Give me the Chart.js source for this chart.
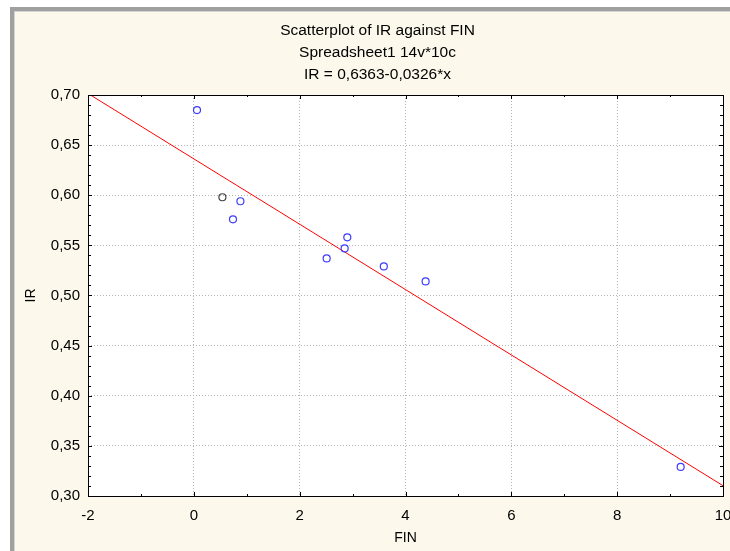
<!DOCTYPE html>
<html>
<head>
<meta charset="utf-8">
<script src="https://cdn.jsdelivr.net/npm/chart.js@4.4.1/dist/chart.umd.min.js"></script>
<style>
html, body { margin: 0; padding: 0; background: #fff; }
canvas { display: block; }
</style>
</head>
<body>
<canvas id="canvas" width="730" height="551"></canvas>
<script>
// datos
const finValues = [0.06, 0.54, 0.88, 0.74, 2.90, 2.85, 2.51, 3.59, 4.38, 9.20];
const irValues  = [0.685, 0.598, 0.594, 0.576, 0.558, 0.547, 0.537, 0.529, 0.514, 0.329];
// el punto en gris oscuro
const pointColors = ["#3c3cff", "#404040", "#3c3cff", "#3c3cff", "#3c3cff", "#3c3cff", "#3c3cff", "#3c3cff", "#3c3cff", "#3c3cff"];
// recta ajustada IR = 0,6363-0,0326*x, extremos del eje
const fitX = [-2, 10];
const fitY = [0.7015, 0.3103];
const xTicks = [-2, 0, 2, 4, 6, 8, 10];
const yTicks = [0.30, 0.35, 0.40, 0.45, 0.50, 0.55, 0.60, 0.65, 0.70];
const titleLines = ["Scatterplot of IR against FIN", "Spreadsheet1 14v*10c", "IR = 0,6363-0,0326*x"];
const xTitle = "FIN";
const yTitle = "IR";

const fontFam = "'Liberation Sans', Arial, sans-serif";
const panelColor = "#fdf8ec";
const gridColor = "#b4b4b4";

function puntos(xs, ys){
    let lista = [];
    for (let i = 0; i < xs.length; i++){
        lista.push({x: xs[i], y: ys[i]});
    }
    return lista;
}

function coma(v, dec){
    return v.toFixed(dec).replace(".", ",");
}

// fondo: marco gris, panel crema, area blanca
const fondoPlugin = {
    id: "fondo",
    beforeDraw(chart){
        const ctx = chart.ctx;
        const a = chart.chartArea;
        ctx.save();
        ctx.fillStyle = "#ffffff";
        ctx.fillRect(0, 0, chart.width, chart.height);
        ctx.fillStyle = "#a0a0a0";
        ctx.fillRect(10, 7, chart.width - 10, 4);
        ctx.fillRect(10, 7, 4, chart.height - 7);
        ctx.fillStyle = "#d4d4d4";
        ctx.fillRect(14, 11, chart.width - 14, 1);
        ctx.fillRect(14, 11, 1, chart.height - 11);
        ctx.fillStyle = panelColor;
        ctx.fillRect(15, 12, chart.width - 15, chart.height - 12);
        ctx.fillStyle = "#ffffff";
        ctx.fillRect(a.left, a.top, a.right - a.left, a.bottom - a.top);
        ctx.restore();
    }
};

// titulo de tres lineas, marcas de los ejes y marco
const marcoPlugin = {
    id: "marco",
    afterDraw(chart){
        const ctx = chart.ctx;
        const a = chart.chartArea;
        const xs = chart.scales.x;
        const ys = chart.scales.y;
        ctx.save();
        ctx.fillStyle = "#000";
        ctx.font = "15.5px " + fontFam;
        ctx.textAlign = "center";
        ctx.textBaseline = "middle";
        const tops = [31, 53, 75];
        for (let i = 0; i < titleLines.length; i++){
            ctx.fillText(titleLines[i], 377.5, tops[i]);
        }
        ctx.strokeStyle = "#000";
        ctx.lineWidth = 1;
        ctx.beginPath();
        for (let v = xs.min; v <= xs.max + 1e-9; v += 1){
            const px = Math.round(xs.getPixelForValue(v)) + 0.5;
            const len = (Math.round(v) % 2 === 0) ? 4 : 2;
            ctx.moveTo(px, a.bottom); ctx.lineTo(px, a.bottom - len);
            ctx.moveTo(px, a.top); ctx.lineTo(px, a.top + len);
        }
        for (let k = 0; k <= 40; k++){
            const v = ys.min + k * 0.01;
            const py = Math.round(ys.getPixelForValue(v)) + 0.5;
            const len = (k % 5 === 0) ? 4 : 3;
            ctx.moveTo(a.left, py); ctx.lineTo(a.left + len, py);
            ctx.moveTo(a.right, py); ctx.lineTo(a.right - len, py);
        }
        ctx.stroke();
        ctx.strokeRect(Math.round(a.left) + 0.5, Math.round(a.top) + 0.5,
            Math.round(a.right - a.left), Math.round(a.bottom - a.top));
        ctx.restore();
    }
};

const data = {
    datasets: [{
        label: "IR",
        data: puntos(finValues, irValues),
        showLine: false,
        pointStyle: "circle",
        pointRadius: 3.5,
        pointBorderWidth: 1.2,
        pointBorderColor: pointColors,
        pointBackgroundColor: "rgba(0,0,0,0)",
        order: 1
    }, {
        label: "ajuste",
        data: puntos(fitX, fitY),
        showLine: true,
        borderColor: "#ff0000",
        borderWidth: 1,
        pointRadius: 0,
        order: 2
    }]
};

const options = {
    responsive: false,
    animation: false,
    devicePixelRatio: 1,
    layout: { padding: { left: 20, right: 7, top: 95, bottom: 0 } },
    plugins: {
        legend: { display: false },
        title: { display: false },
        tooltip: { enabled: false }
    },
    scales: {
        x: {
            type: "linear",
            min: -2,
            max: 10,
            afterBuildTicks: s => { s.ticks = xTicks.map(v => ({value: v})); },
            afterFit: s => { s.height = 55; s.paddingLeft = 0; s.paddingRight = 0; },
            ticks: {
                color: "#000",
                padding: 11,
                maxRotation: 0,
                font: { family: fontFam, size: 15 },
                callback: v => String(v)
            },
            grid: { color: gridColor, drawTicks: false, lineWidth: 1 },
            border: { display: false, dash: [1, 2] },
            title: {
                display: true,
                text: xTitle,
                color: "#000",
                font: { family: fontFam, size: 14 },
                padding: { top: 0, bottom: 4 }
            }
        },
        y: {
            type: "linear",
            min: 0.30,
            max: 0.70,
            afterBuildTicks: s => { s.ticks = yTicks.map(v => ({value: v})); },
            afterFit: s => { s.width = 68; s.paddingTop = 0; s.paddingBottom = 0; },
            ticks: {
                color: "#000",
                padding: 8,
                font: { family: fontFam, size: 15 },
                callback: v => coma(v, 2)
            },
            grid: { color: gridColor, drawTicks: false, lineWidth: 1 },
            border: { display: false, dash: [1, 2] },
            title: {
                display: true,
                text: yTitle,
                color: "#000",
                font: { family: fontFam, size: 14 },
                padding: { top: 3, bottom: 0 }
            }
        }
    }
};

let chart = new Chart(document.getElementById("canvas").getContext("2d"), {
    type: "scatter",
    data: data,
    options: options,
    plugins: [fondoPlugin, marcoPlugin]
});
</script>
</body>
</html>
